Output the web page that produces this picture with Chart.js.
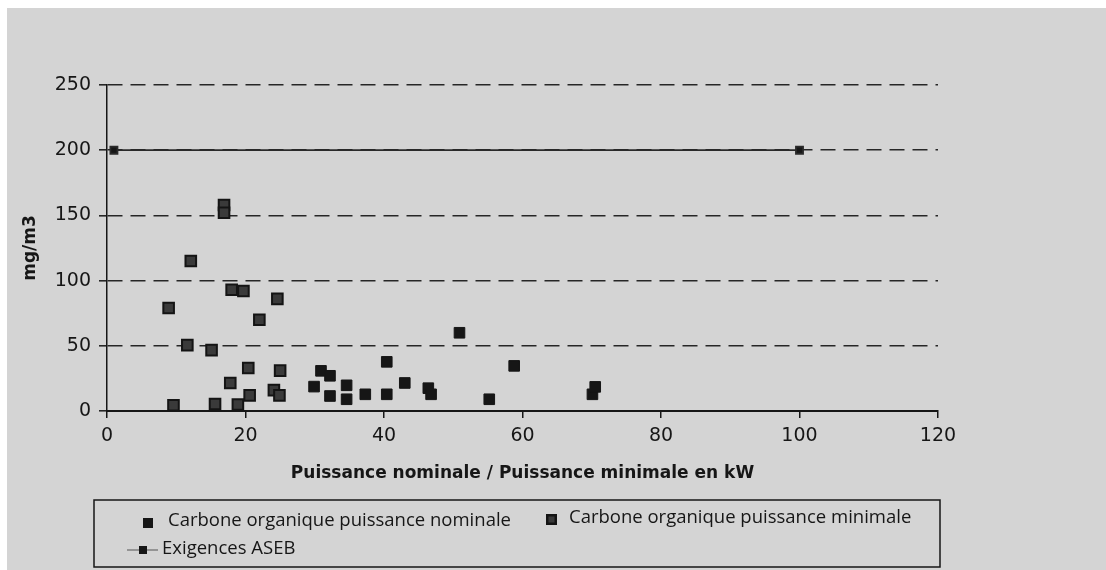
<!DOCTYPE html>
<html>
<head>
<meta charset="utf-8">
<script src="https://cdn.jsdelivr.net/npm/chart.js@4"></script>
<style>
  html, body { margin: 0; padding: 0; background: #fff; }
  #wrap { width: 1106px; height: 570px; position: relative; }
</style>
</head>
<body>
<div id="wrap"><canvas id="chart"></canvas></div>
<script>
// values
const xTicks = [0, 20, 40, 60, 80, 100, 120];
const yTicks = [0, 50, 100, 150, 200, 250];

const nominalX = [29.9, 30.9, 32.2, 32.2, 34.6, 34.6, 37.3, 40.4, 40.4, 43.0, 46.4, 46.8, 50.9, 55.2, 58.8, 70.1, 70.5];
const nominalY = [18.7, 30.8, 27, 11.5, 19.7, 9, 12.8, 37.7, 12.8, 21.5, 17.5, 12.8, 60, 9, 34.6, 12.8, 18.5];

const minimalX = [8.9, 9.6, 12.1, 11.6, 15.1, 15.6, 16.9, 16.9, 17.8, 18.0, 19.7, 18.9, 20.4, 20.6, 22.0, 24.6, 24.1, 24.9, 25.0];
const minimalY = [79, 4.4, 115, 50.5, 46.7, 5.4, 158, 152, 21.5, 93, 92, 5, 33, 12, 70, 86, 16, 12, 31];

const asebX = [1, 100];
const asebY = [200, 200];

const labels = [
    'Carbone organique puissance nominale',
    'Carbone organique puissance minimale',
    'Exigences ASEB'
];

const toPoints = (xs, ys) => xs.map((x, i) => ({ x: x, y: ys[i] }));

const ink = '#161616';
const paper = '#d4d4d4';

// scan background: grey page with a white strip on top and left
const paperBg = {
    id: 'paperBg',
    beforeDraw(chart) {
        const ctx = chart.ctx;
        ctx.save();
        ctx.fillStyle = '#ffffff';
        ctx.fillRect(0, 0, chart.width, chart.height);
        ctx.fillStyle = paper;
        ctx.fillRect(7, 8, chart.width - 7, chart.height - 8);
        ctx.restore();
    }
};

// boxed legend under the chart, two rows like the original
const boxLegend = {
    id: 'boxLegend',
    afterDraw(chart) {
        const ctx = chart.ctx;
        const ds = chart.data.datasets;
        ctx.save();
        ctx.strokeStyle = ink;
        ctx.lineWidth = 1.5;
        ctx.strokeRect(94, 500, 846, 67);

        ctx.font = '18.5px "Open Sans"';
        ctx.textBaseline = 'middle';
        ctx.fillStyle = ink;

        // nominale
        ctx.fillStyle = ds[0].backgroundColor;
        ctx.fillRect(143, 518, 10, 10);
        ctx.fillStyle = ink;
        ctx.fillText(ds[0].label, 168, 521);

        // minimale
        ctx.fillStyle = ds[1].borderColor;
        ctx.fillRect(546, 514, 11, 11);
        ctx.fillStyle = ds[1].backgroundColor;
        ctx.fillRect(548.5, 516.5, 6, 6);
        ctx.fillStyle = ink;
        ctx.fillText(ds[1].label, 569, 518);

        // ASEB
        ctx.strokeStyle = '#555';
        ctx.lineWidth = 1;
        ctx.beginPath();
        ctx.moveTo(127, 550);
        ctx.lineTo(158, 550);
        ctx.stroke();
        ctx.fillStyle = ink;
        ctx.fillRect(139, 546, 8, 8);
        ctx.fillText(ds[2].label, 162, 549);
        ctx.restore();
    }
};

new Chart(document.getElementById('chart'), {
    type: 'scatter',
    data: {
        datasets: [
            {
                label: labels[0],
                data: toPoints(nominalX, nominalY),
                pointStyle: 'rect',
                pointRadius: 7.5,
                pointHoverRadius: 7.5,
                backgroundColor: '#161616',
                borderColor: '#161616',
                borderWidth: 1
            },
            {
                label: labels[1],
                data: toPoints(minimalX, minimalY),
                pointStyle: 'rect',
                pointRadius: 7.5,
                pointHoverRadius: 7.5,
                backgroundColor: '#3a3a3a',
                borderColor: '#141414',
                borderWidth: 2
            },
            {
                label: labels[2],
                data: toPoints(asebX, asebY),
                showLine: true,
                pointStyle: 'rect',
                pointRadius: 5,
                pointHoverRadius: 5,
                backgroundColor: ink,
                borderColor: '#2a2a2a',
                borderWidth: 1.8
            }
        ]
    },
    options: {
        responsive: true,
        maintainAspectRatio: false,
        animation: false,
        layout: { padding: { top: 85, right: 168, bottom: 80, left: 0 } },
        plugins: {
            legend: { display: false },
            tooltip: { enabled: false }
        },
        scales: {
            x: {
                type: 'linear',
                min: 0,
                max: 120,
                afterBuildTicks: (scale) => { scale.ticks = xTicks.map(v => ({ value: v })); },
                afterFit: (scale) => { scale.height = 79; },
                grid: { drawOnChartArea: false, drawTicks: true, tickLength: 7, color: ink, lineWidth: 1.5 },
                border: { display: true, color: ink, width: 2 },
                ticks: { color: ink, padding: 7, font: { family: 'DejaVu Sans', size: 19 } },
                title: {
                    display: true,
                    text: 'Puissance nominale / Puissance minimale en kW',
                    color: ink,
                    padding: { top: 0, bottom: 6 },
                    font: { family: 'DejaVu Sans', size: 17, weight: 'bold' }
                }
            },
            y: {
                type: 'linear',
                min: 0,
                max: 250,
                afterBuildTicks: (scale) => { scale.ticks = yTicks.map(v => ({ value: v })); },
                afterFit: (scale) => { scale.width = 107; },
                grid: { color: '#262626', lineWidth: 1.6, tickLength: 8, tickBorderDash: [] },
                border: { display: true, color: ink, width: 1.5, dash: [15, 8] },
                ticks: { color: ink, padding: 8, font: { family: 'DejaVu Sans', size: 19 } },
                title: {
                    display: true,
                    text: 'mg/m3',
                    color: ink,
                    padding: { top: 20, bottom: 0 },
                    font: { family: 'DejaVu Sans', size: 17, weight: 'bold' }
                }
            }
        }
    },
    plugins: [paperBg, boxLegend]
});
</script>
</body>
</html>
